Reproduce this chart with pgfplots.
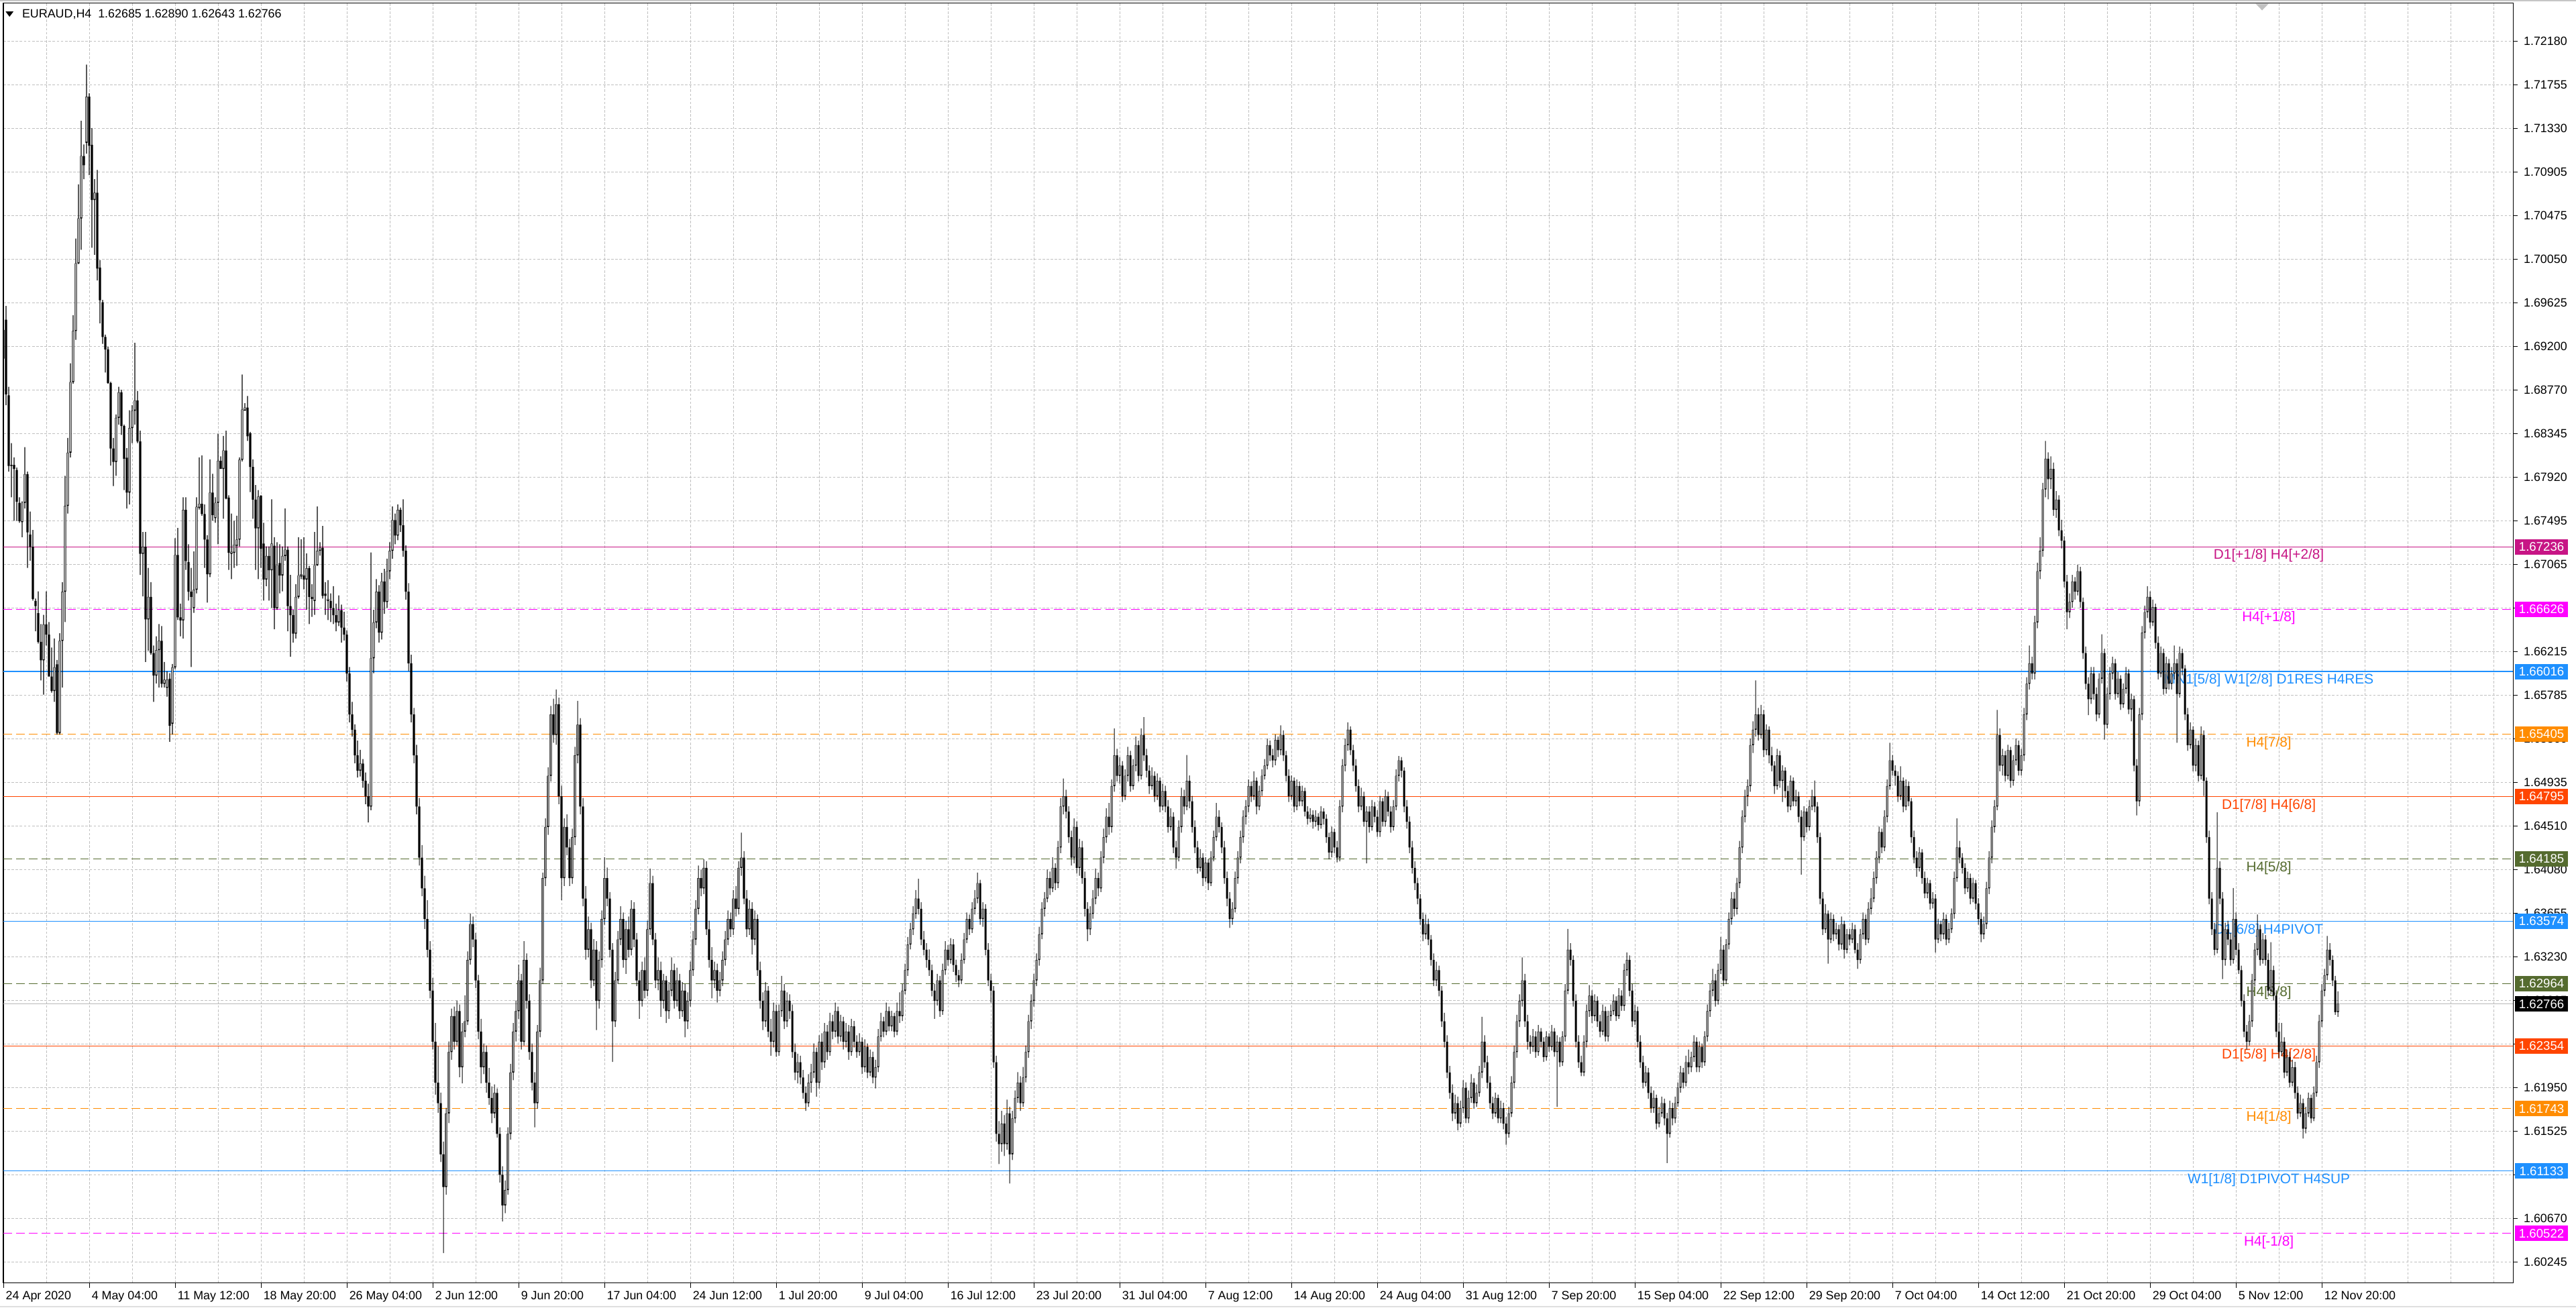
\documentclass[border=0pt]{standalone}
\usepackage{pgfplots}
\usepackage{pgfplotstable}
\pgfplotsset{compat=1.18}
\usepackage{fontspec}
\setmainfont{Liberation Sans}
\definecolor{mvr}{HTML}{C71585}
\definecolor{mag}{HTML}{FF00FF}
\definecolor{dblue}{HTML}{1E90FF}
\definecolor{dorange}{HTML}{FF8C00}
\definecolor{ored}{HTML}{FF4500}
\definecolor{olv}{HTML}{556B2F}
\definecolor{gridc}{HTML}{C0C0C0}
\newcommand\tfont{\fontsize{7.3}{8.5}\selectfont}
\newcommand\bfont{\fontsize{7.6}{8.5}\selectfont}
\newcommand\lfont{\fontsize{8.5}{10}\selectfont}
\pgfplotsset{
  geom/.style={at={(2.04pt,15pt)}, anchor=south west, scale only axis,
    width=1527.6pt, height=779pt, xmin=5, xmax=3746, ymin=3.8, ymax=1255},
  candax/.style={geom, hide axis, ybar stacked, grid=none},
}
% EURAUD H4 candles: o h l c in pips above 1.6000 (1 unit = 0.0001)
\pgfplotstableread{
o h l c
936 940 903 908
946 959 862 873
872 880 797 803
804 825 772 803
804 811 749 800
799 801 749 768
767 772 747 749
748 768 733 767
767 821 761 795
795 797 703 738
736 758 710 724
724 740 671 673
671 673 641 666
659 680 629 631
631 648 593 613
613 657 579 648
648 680 627 638
638 650 597 597
597 625 581 583
583 634 572 606
609 613 540 542
542 639 540 632
632 689 586 680
680 793 650 764
764 830 756 816
816 903 811 885
885 950 883 935
935 1025 926 1001
1001 1078 1000 1045
1045 1140 1014 1106
1106 1117 1083 1097
1119 1195 1108 1164
1164 1167 1087 1116
1117 1133 1016 1063
1063 1083 1009 1070
1070 1092 984 996
997 1004 942 965
963 965 922 929
929 931 894 917
917 919 883 884
884 885 803 820
820 830 783 807
807 853 793 850
850 880 843 875
875 877 833 842
842 843 779 810
811 820 761 777
777 857 765 840
840 862 825 857
857 923 843 867
867 876 825 827
827 837 696 717
717 738 675 724
724 738 611 653
653 703 622 675
675 689 618 620
620 627 572 598
598 636 590 623
623 648 586 632
632 646 586 590
590 611 586 594
586 602 577 594
595 600 533 549
551 609 540 606
606 732 604 716
716 742 652 655
655 668 636 652
652 772 634 760
760 772 701 710
709 726 671 680
680 703 606 675
664 719 659 682
682 772 678 763
762 811 760 766
766 813 754 756
756 765 703 731
731 735 669 697
697 809 694 777
777 795 749 755
752 772 747 767
767 834 726 808
808 812 800 800
800 832 751 818
818 837 770 771
772 774 701 718
717 756 692 719
718 749 703 726
725 754 705 731
731 811 724 809
809 892 807 858
857 864 857 860
860 871 827 832
835 836 777 802
802 809 751 770
770 784 701 742
742 779 692 773
774 774 703 722
727 747 671 692
692 724 685 715
715 724 671 701
701 770 664 727
725 733 643 664
664 728 662 706
708 726 678 696
696 724 680 715
715 761 710 721
721 724 641 666
666 696 616 657
657 662 630 639
639 687 634 675
675 733 673 696
695 731 692 697
696 733 682 692
692 717 662 703
703 705 648 675
675 687 655 673
671 738 657 706
706 763 705 720
720 728 715 723
723 744 673 676
678 689 657 676
671 691 652 673
671 678 650 664
664 685 648 657
657 668 641 650
650 676 646 662
662 667 630 645
645 660 632 638
638 642 592 600
600 606 552 560
560 572 538 545
545 550 512 520
520 534 498 505
505 525 499 512
512 516 488 495
495 503 472 480
480 492 454 470
470 718 466 615
615 662 600 650
650 692 644 680
680 686 630 640
640 698 633 690
690 702 658 670
670 712 664 700
700 728 692 720
720 763 712 750
750 756 726 735
735 765 730 760
760 762 738 745
745 770 714 720
720 725 672 680
680 688 602 610
610 618 552 560
560 566 512 520
520 530 462 470
470 478 412 420
420 432 382 390
390 402 350 360
360 378 322 330
330 338 282 290
290 302 232 240
240 258 188 200
200 235 170 180
180 190 122 130
130 142 33 98
98 175 90 170
170 240 160 230
230 272 222 265
265 274 232 240
240 280 236 270
270 276 205 215
215 258 199 250
250 285 244 260
260 328 256 320
320 365 315 355
355 362 332 340
340 346 292 300
300 305 242 250
250 262 199 215
215 238 208 230
230 236 190 200
200 214 178 185
185 196 160 170
170 198 165 190
190 194 146 150
150 156 102 110
110 118 64 80
80 104 72 95
95 156 90 150
150 218 144 210
210 258 202 250
250 280 240 270
270 315 262 300
300 306 232 240
240 338 236 320
320 326 272 280
280 286 222 230
230 238 192 200
200 210 156 180
180 256 174 250
250 312 244 300
300 405 296 400
400 458 392 450
450 508 442 500
500 568 494 560
560 575 532 540
540 584 530 570
570 576 472 480
480 490 378 400
400 458 392 450
450 462 422 430
430 438 392 400
400 448 394 440
440 528 432 520
520 573 512 550
550 556 462 470
470 478 372 380
380 392 320 330
330 362 322 350
350 356 292 300
300 340 294 330
330 338 251 280
280 328 272 320
320 368 312 360
360 420 354 400
400 410 372 380
380 386 322 330
330 336 220 260
260 308 254 300
300 348 296 340
340 372 334 360
360 366 312 320
320 358 306 350
350 362 322 330
330 378 324 370
370 376 332 340
340 346 294 300
300 308 262 280
280 318 274 310
310 322 282 290
290 358 284 350
350 409 344 395
395 402 334 340
340 346 292 300
300 322 290 310
310 318 264 280
280 306 272 300
300 304 258 270
270 298 262 290
290 322 284 310
310 316 272 280
280 312 274 300
300 306 262 270
270 298 264 290
290 296 244 260
260 288 252 280
280 318 274 310
310 348 304 340
340 378 334 370
370 412 364 400
400 408 382 390
390 418 384 410
410 416 344 350
350 358 312 320
320 332 282 300
300 318 292 310
310 316 278 290
290 308 284 300
300 328 294 320
320 348 314 340
340 368 334 360
360 366 342 350
350 388 344 380
380 392 362 370
370 416 364 410
410 444 402 420
420 426 374 380
380 388 342 350
350 378 344 370
370 376 325 340
340 368 334 360
360 364 304 310
310 318 272 280
280 288 251 260
260 298 254 290
290 294 244 250
250 262 226 240
240 278 234 270
270 276 225 230
230 276 226 270
270 304 264 290
290 296 252 260
260 288 254 280
280 286 262 270
270 276 224 230
230 238 202 210
210 228 199 220
220 226 198 205
205 212 184 190
190 196 172 180
180 208 176 200
200 218 190 210
210 238 204 230
230 234 186 200
200 246 194 240
240 248 212 220
220 258 214 250
250 256 222 230
230 268 226 260
260 266 242 250
250 278 244 270
270 274 238 245
245 266 240 260
260 264 232 240
240 258 234 250
250 256 222 230
230 262 226 255
255 260 234 240
240 246 224 230
230 248 226 240
240 244 208 215
215 242 210 235
235 238 204 210
210 232 206 225
225 230 199 205
205 222 194 215
215 252 210 245
245 268 240 260
260 264 244 250
250 278 246 270
270 274 250 255
255 270 250 265
265 268 244 250
250 278 246 270
270 288 258 265
265 296 260 290
290 316 286 310
310 342 304 335
335 356 330 350
350 372 344 365
365 388 360 380
380 399 364 370
370 376 334 340
340 348 324 330
330 336 312 320
320 330 304 310
310 315 284 290
290 296 262 280
280 306 275 300
300 304 264 270
270 316 266 310
310 338 305 330
330 334 314 320
320 341 316 335
335 340 308 315
315 320 298 305
305 310 293 300
300 326 296 320
320 346 316 340
340 366 336 360
360 364 344 350
350 376 346 370
370 388 364 380
380 405 375 395
395 398 354 360
360 376 352 370
370 374 324 330
330 336 294 300
300 306 278 290
290 294 214 220
220 226 142 150
150 162 120 140
140 172 132 160
160 168 128 140
140 183 134 170
170 176 101 130
130 172 124 165
165 192 160 185
185 210 180 200
200 206 172 180
180 215 176 205
205 236 200 230
230 266 224 260
260 286 252 280
280 306 274 300
300 326 294 320
320 352 314 345
345 376 340 370
370 386 362 380
380 408 376 400
400 406 383 390
390 420 386 410
410 414 388 395
395 436 390 430
430 478 424 470
470 497 462 480
480 486 458 465
465 470 434 440
440 446 412 420
420 458 414 450
450 455 404 410
410 438 402 430
430 436 394 400
400 406 362 370
370 376 338 350
350 372 344 365
365 388 360 380
380 409 374 400
400 405 382 390
390 426 386 420
420 448 414 440
440 468 434 460
460 473 442 450
450 496 444 490
490 546 484 520
520 526 494 500
500 518 492 510
510 514 474 480
480 506 476 500
500 528 494 520
520 524 484 490
490 516 486 510
510 538 504 530
530 534 494 500
500 546 496 540
540 557 514 520
520 526 498 505
505 510 482 490
490 508 486 500
500 504 474 480
480 502 476 495
495 498 464 470
470 492 466 485
485 490 464 470
470 476 444 450
450 468 446 460
460 464 424 430
430 436 409 420
420 456 416 450
450 488 444 480
480 486 462 470
470 520 466 495
495 500 468 475
475 480 444 450
450 456 424 430
430 436 404 410
410 428 406 420
420 424 392 400
400 420 396 415
415 418 388 395
395 426 392 420
420 446 416 440
440 473 436 460
460 466 444 450
450 454 424 430
430 436 394 400
400 406 372 380
380 386 351 360
360 376 354 370
370 406 366 400
400 426 394 420
420 446 414 440
440 466 434 460
460 476 452 470
470 496 464 490
490 494 474 480
480 504 476 495
495 498 462 470
470 490 466 485
485 506 480 500
500 516 496 510
510 536 506 530
530 534 514 520
520 526 508 515
515 540 510 535
535 538 518 525
525 549 520 540
540 544 514 520
520 524 494 500
500 506 474 480
480 500 476 495
495 498 464 470
470 496 466 490
490 494 470 475
475 490 470 485
485 488 460 465
465 470 452 458
458 468 454 462
462 466 448 455
455 466 450 460
460 463 446 452
452 470 448 465
465 468 452 458
458 462 434 440
440 444 418 425
425 450 420 445
445 448 424 430
430 436 415 420
420 476 416 470
470 516 464 510
510 536 504 530
530 552 524 545
545 548 520 525
525 530 504 510
510 516 484 490
490 496 464 470
470 488 466 480
480 484 450 455
455 470 414 465
465 470 444 450
450 476 446 470
470 474 454 460
460 466 440 445
445 480 440 475
475 478 450 455
455 486 450 480
480 484 460 465
465 470 444 450
450 476 446 470
470 506 466 500
500 519 494 515
515 518 498 505
505 508 464 470
470 476 448 455
455 460 424 430
430 436 404 410
410 416 388 395
395 400 374 380
380 384 354 360
360 366 338 345
345 364 340 355
355 360 334 340
340 344 314 320
320 326 294 300
300 318 294 310
310 314 284 290
290 294 254 260
260 268 234 240
240 246 204 210
210 216 184 190
190 198 162 170
170 188 164 180
180 186 153 160
160 182 156 175
175 202 170 195
195 200 160 165
165 192 160 185
185 208 180 200
200 204 174 180
180 198 176 190
190 216 186 210
210 264 204 240
240 246 214 220
220 226 194 200
200 206 174 180
180 186 164 170
170 190 166 185
185 188 160 165
165 182 160 175
175 180 154 160
160 166 139 150
150 176 146 170
170 206 166 200
200 236 194 230
230 266 224 260
260 286 254 280
280 322 274 300
300 306 254 260
260 266 232 240
240 246 228 235
235 252 230 245
245 250 224 230
230 256 226 250
250 253 234 240
240 244 220 225
225 250 221 245
245 248 230 235
235 256 231 250
250 253 225 230
230 246 176 240
240 244 215 220
220 250 216 245
245 296 240 290
290 350 286 330
330 336 314 320
320 324 274 280
280 286 234 240
240 246 214 220
220 226 206 210
210 246 206 240
240 276 234 270
270 295 264 285
285 290 258 265
265 286 260 280
280 284 254 260
260 266 244 250
250 276 246 270
270 274 240 245
245 270 240 265
265 276 260 270
270 286 266 280
280 284 260 265
265 292 262 285
285 290 270 275
275 316 270 310
310 327 304 320
320 324 284 290
290 296 254 260
260 276 256 270
270 274 234 240
240 246 214 220
220 226 194 200
200 216 196 210
210 214 184 190
190 196 170 175
175 192 170 185
185 188 154 160
160 176 156 170
170 186 166 180
180 184 158 165
165 170 121 150
150 182 146 175
175 180 158 165
165 186 160 180
180 200 176 195
195 216 190 210
210 214 194 200
200 226 196 220
220 232 208 215
215 230 210 225
225 246 220 240
240 244 210 215
215 240 210 235
235 238 214 220
220 250 216 245
245 276 240 270
270 296 264 290
290 311 284 300
300 306 274 280
280 316 276 310
310 342 306 330
330 334 294 300
300 340 296 335
335 366 330 360
360 386 354 380
380 386 362 370
370 400 364 395
395 436 390 430
430 466 424 460
460 486 454 480
480 496 470 490
490 536 484 530
530 553 522 545
545 593 538 560
560 566 534 540
540 569 536 560
560 564 518 525
525 550 520 545
545 548 512 520
520 528 504 510
510 514 482 490
490 526 486 520
520 524 488 495
495 510 474 505
505 508 478 485
485 490 464 470
470 500 466 495
495 498 470 475
475 486 470 480
480 484 454 460
460 466 403 440
440 470 436 465
465 468 444 450
450 476 446 470
470 486 466 480
480 495 464 470
470 474 434 440
440 444 374 380
380 386 344 350
350 374 346 365
365 368 316 340
340 366 336 360
360 364 338 345
345 356 340 350
350 354 329 335
335 362 330 355
355 358 321 330
330 350 326 345
345 350 334 340
340 356 336 350
350 354 326 330
330 336 311 320
320 350 316 345
345 366 340 360
360 364 334 340
340 376 336 370
370 390 364 380
380 406 376 400
400 426 394 420
420 450 414 445
445 448 424 430
430 466 426 460
460 496 454 490
490 532 486 515
515 520 500 505
505 510 490 500
500 504 474 480
480 509 476 495
495 498 464 470
470 496 466 490
490 494 470 475
475 478 434 440
440 446 414 420
420 426 401 410
410 430 406 425
425 428 394 400
400 406 380 385
385 400 380 395
395 398 369 375
375 386 370 380
380 384 327 340
340 360 336 355
355 358 338 345
345 366 340 360
360 364 334 340
340 356 336 350
350 370 346 365
365 406 360 400
400 458 396 430
430 436 414 420
420 424 404 410
410 414 384 390
390 406 386 400
400 404 374 380
380 400 376 395
395 398 369 375
375 380 354 360
360 366 337 345
345 362 340 355
355 396 350 390
390 426 384 420
420 456 414 450
450 476 444 470
470 564 466 540
540 546 504 510
510 526 500 520
520 524 494 500
500 530 496 525
525 528 488 495
495 520 490 515
515 536 510 530
530 534 500 505
505 526 500 520
520 566 514 560
560 596 554 590
590 627 584 610
610 616 594 600
600 656 594 650
650 708 644 700
700 733 692 720
720 786 714 780
780 827 772 810
810 816 770 790
790 812 780 800
800 806 754 760
760 778 752 770
770 774 734 740
740 750 722 730
730 734 684 690
690 696 643 660
660 678 654 670
670 696 664 690
690 694 672 680
680 706 676 700
700 704 664 670
670 674 614 620
620 626 584 590
590 596 559 575
575 606 570 600
600 606 574 580
580 586 553 560
560 600 556 595
595 638 590 620
620 624 535 550
550 586 546 580
580 606 574 600
600 616 594 610
610 614 574 580
580 601 576 595
595 598 564 570
570 590 566 585
585 606 580 600
600 604 560 565
565 580 553 575
575 578 504 510
510 516 461 475
475 566 470 560
560 646 554 640
640 666 634 660
660 685 654 675
675 680 644 650
650 672 646 665
665 668 624 630
630 636 594 600
600 626 596 620
620 624 579 585
585 616 580 610
610 614 584 590
590 606 584 600
600 627 594 610
610 614 532 580
580 626 576 620
620 624 598 605
605 608 554 560
560 566 524 530
530 552 526 545
545 548 504 510
510 536 504 530
530 534 494 500
500 548 496 540
540 544 480 495
495 498 434 440
440 446 374 380
380 386 344 350
350 356 324 330
330 464 326 410
410 416 374 380
380 386 301 320
320 356 314 350
350 358 334 340
340 346 314 320
320 390 316 360
360 366 324 330
330 336 306 310
310 314 274 280
280 286 244 250
250 256 232 240
240 266 236 260
260 306 254 300
300 336 294 330
330 364 324 350
350 354 314 320
320 346 316 340
340 344 314 320
320 326 284 290
290 337 286 310
310 314 280 285
285 290 244 250
250 258 224 230
230 258 226 240
240 244 204 210
210 232 206 225
225 230 195 200
200 222 196 215
215 220 184 190
190 196 164 170
170 188 166 180
180 184 145 155
155 176 150 170
170 190 166 185
185 188 160 165
165 196 162 190
190 226 186 220
220 266 214 260
260 296 254 290
290 311 284 305
305 343 300 330
330 336 314 320
320 324 294 300
300 304 266 269
269 289 264 277
}\candles

\begin{document}
\begin{tikzpicture}
\fill[white] (0,0) rectangle (1568pt,796pt);
\path[use as bounding box] (0,0) rectangle (1568pt,796pt);
% window frame lines (top and bottom)
\draw[gray!45, line width=0.9pt] (0,795.5pt) -- (1568pt,795.5pt);
\draw[gray!25, line width=0.9pt] (0,0.5pt) -- (1568pt,0.5pt);
% ---------- main axis: frame, grid, ticks, levels ----------
\begin{axis}[
  geom,
  clip mode=individual,
  axis line style={black, line width=0.5pt},
  xtick={5,133,...,3461},
  xticklabels={24 Apr 2020,4 May 04:00,11 May 12:00,18 May 20:00,26 May 04:00,2 Jun 12:00,9 Jun 20:00,17 Jun 04:00,24 Jun 12:00,1 Jul 20:00,9 Jul 04:00,16 Jul 12:00,23 Jul 20:00,31 Jul 04:00,7 Aug 12:00,14 Aug 20:00,24 Aug 04:00,31 Aug 12:00,7 Sep 20:00,15 Sep 04:00,22 Sep 12:00,29 Sep 20:00,7 Oct 04:00,14 Oct 12:00,21 Oct 20:00,29 Oct 04:00,5 Nov 12:00,12 Nov 20:00},
  minor xtick={69,197,...,3653,3589,3717},
  ytick={24.5,67.125,109.75,152.375,195,237.625,280.25,322.875,365.5,408.125,450.75,493.375,536,578.625,621.25,663.875,706.5,749.125,791.75,834.375,877,919.625,962.25,1004.875,1047.5,1090.125,1132.75,1175.375,1218},
  yticklabels={1.60245,1.60670,1.61095,1.61525,1.61950,1.62375,1.62805,1.63230,1.63655,1.64080,1.64510,1.64935,1.65360,1.65785,1.66215,1.66640,1.67065,1.67495,1.67920,1.68345,1.68770,1.69200,1.69625,1.70050,1.70475,1.70905,1.71330,1.71755,1.72180},
  xtick pos=left, ytick pos=right, yticklabel pos=right,
  tick align=outside,
  major tick length=3pt, minor tick length=0pt,
  tick style={black, line width=0.4pt},
  grid=both,
  major grid style={gridc, line width=0.4pt, dash pattern=on 1.5pt off 1pt},
  minor grid style={gridc, line width=0.4pt, dash pattern=on 1.5pt off 1pt},
  xticklabel style={anchor=north west, font=\tfont, xshift=-2pt, yshift=1.5pt},
  yticklabel style={anchor=west, font=\tfont},
]
\addplot[mvr, line width=0.45pt] coordinates {(5,723.6) (3746,723.6)};
\addplot[mag, line width=0.45pt, dash pattern=on 5.2pt off 2.6pt] coordinates {(5,662.6) (3746,662.6)};
\addplot[dblue, line width=0.85pt] coordinates {(5,601.6) (3746,601.6)};
\addplot[dorange, line width=0.45pt, dash pattern=on 5.2pt off 2.6pt] coordinates {(5,540.5) (3746,540.5)};
\addplot[ored, line width=0.45pt] coordinates {(5,479.5) (3746,479.5)};
\addplot[olv, line width=0.45pt, dash pattern=on 5.2pt off 2.6pt] coordinates {(5,418.5) (3746,418.5)};
\addplot[dblue, line width=0.45pt] coordinates {(5,357.4) (3746,357.4)};
\addplot[olv, line width=0.45pt, dash pattern=on 5.2pt off 2.6pt] coordinates {(5,296.4) (3746,296.4)};
\addplot[gray!55, line width=0.45pt] coordinates {(5,276.6) (3746,276.6)};
\addplot[ored, line width=0.45pt] coordinates {(5,235.4) (3746,235.4)};
\addplot[dorange, line width=0.45pt, dash pattern=on 5.2pt off 2.6pt] coordinates {(5,174.3) (3746,174.3)};
\addplot[dblue, line width=0.45pt] coordinates {(5,113.3) (3746,113.3)};
\addplot[mag, line width=0.45pt, dash pattern=on 5.2pt off 2.6pt] coordinates {(5,52.2) (3746,52.2)};
\node[anchor=north, inner sep=0pt, yshift=-1.3pt, font=\lfont, text=mvr] at (axis cs:3382,723.6) {D1[+1/8] H4[+2/8]};
\node[anchor=north, inner sep=0pt, yshift=-1.3pt, font=\lfont, text=mag] at (axis cs:3382,662.6) {H4[+1/8]};
\node[anchor=north, inner sep=0pt, yshift=-1.3pt, font=\lfont, text=dblue] at (axis cs:3382,601.6) {MN1[5/8] W1[2/8] D1RES H4RES};
\node[anchor=north, inner sep=0pt, yshift=-1.3pt, font=\lfont, text=dorange] at (axis cs:3382,540.5) {H4[7/8]};
\node[anchor=north, inner sep=0pt, yshift=-1.3pt, font=\lfont, text=ored] at (axis cs:3382,479.5) {D1[7/8] H4[6/8]};
\node[anchor=north, inner sep=0pt, yshift=-1.3pt, font=\lfont, text=olv] at (axis cs:3382,418.5) {H4[5/8]};
\node[anchor=north, inner sep=0pt, yshift=-1.3pt, font=\lfont, text=dblue] at (axis cs:3382,357.4) {D1[6/8] H4PIVOT};
\node[anchor=north, inner sep=0pt, yshift=-1.3pt, font=\lfont, text=olv] at (axis cs:3382,296.4) {H4[3/8]};
\node[anchor=north, inner sep=0pt, yshift=-1.3pt, font=\lfont, text=ored] at (axis cs:3382,235.4) {D1[5/8] H4[2/8]};
\node[anchor=north, inner sep=0pt, yshift=-1.3pt, font=\lfont, text=dorange] at (axis cs:3382,174.3) {H4[1/8]};
\node[anchor=north, inner sep=0pt, yshift=-1.3pt, font=\lfont, text=dblue] at (axis cs:3382,113.3) {W1[1/8] D1PIVOT H4SUP};
\node[anchor=north, inner sep=0pt, yshift=-1.3pt, font=\lfont, text=mag] at (axis cs:3382,52.2) {H4[-1/8]};
\coordinate (B1) at (axis cs:3746,723.6);
\coordinate (B2) at (axis cs:3746,662.6);
\coordinate (B3) at (axis cs:3746,601.6);
\coordinate (B4) at (axis cs:3746,540.5);
\coordinate (B5) at (axis cs:3746,479.5);
\coordinate (B6) at (axis cs:3746,418.5);
\coordinate (B7) at (axis cs:3746,357.4);
\coordinate (B8) at (axis cs:3746,296.4);
\coordinate (B9) at (axis cs:3746,276.6);
\coordinate (B10) at (axis cs:3746,235.4);
\coordinate (B11) at (axis cs:3746,174.3);
\coordinate (B12) at (axis cs:3746,113.3);
\coordinate (B13) at (axis cs:3746,52.2);
\coordinate (SH) at (axis cs:3372,1255);
\end{axis}
% ---------- wicks (low .. high) ----------
\begin{axis}[candax, bar width=0.42pt]
\addplot[draw=none, fill=none] table[x expr={5+4*\coordindex}, y expr={\thisrow{l}}] {\candles};
\addplot[draw=none, fill=black] table[x expr={5+4*\coordindex}, y expr={\thisrow{h}-\thisrow{l}}] {\candles};
\end{axis}
% ---------- bodies (open .. close), black ----------
\begin{axis}[candax, bar width=1.25pt]
\addplot[draw=none, fill=none] table[x expr={5+4*\coordindex}, y expr={min(\thisrow{o},\thisrow{c})-0.35}] {\candles};
\addplot[draw=none, fill=black] table[x expr={5+4*\coordindex}, y expr={max(abs(\thisrow{o}-\thisrow{c}),0.7)}] {\candles};
\end{axis}
% ---------- hollow interior of rising candles ----------
\begin{axis}[candax, bar width=0.42pt]
\addplot[draw=none, fill=none] table[x expr={5+4*\coordindex}, y expr={min(\thisrow{o},\thisrow{c})+0.66}] {\candles};
\addplot[draw=none, fill=white] table[x expr={5+4*\coordindex}, y expr={(\thisrow{c}>\thisrow{o})*max(\thisrow{c}-\thisrow{o}-1.32,0)}] {\candles};
\end{axis}
% ---------- chart shift marker ----------
\fill[gridc] ([xshift=-3.9pt,yshift=-0.3pt]SH) -- ([xshift=3.9pt,yshift=-0.3pt]SH) -- ([yshift=-4.3pt]SH) -- cycle;
% ---------- price boxes on the right scale ----------
\tikzset{pbox/.style={anchor=west, inner sep=0pt, minimum width=32.5pt, minimum height=9.4pt, text=white, font=\bfont, xshift=0.9pt}}
\node[pbox, fill=mvr] at (B1) {1.67236};
\node[pbox, fill=mag] at (B2) {1.66626};
\node[pbox, fill=dblue] at (B3) {1.66016};
\node[pbox, fill=dorange] at (B4) {1.65405};
\node[pbox, fill=ored] at (B5) {1.64795};
\node[pbox, fill=olv] at (B6) {1.64185};
\node[pbox, fill=dblue] at (B7) {1.63574};
\node[pbox, fill=olv] at (B8) {1.62964};
\node[pbox, fill=black] at (B9) {1.62766};
\node[pbox, fill=ored] at (B10) {1.62354};
\node[pbox, fill=dorange] at (B11) {1.61743};
\node[pbox, fill=dblue] at (B12) {1.61133};
\node[pbox, fill=mag] at (B13) {1.60522};
% ---------- title ----------
\fill[black] (3.4pt,789pt) -- (8.2pt,789pt) -- (5.8pt,785.8pt) -- cycle;
\node[anchor=west, inner sep=0pt, font=\tfont] at (13.3pt,787.2pt) {EURAUD,H4\ \ 1.62685 1.62890 1.62643 1.62766};
\end{tikzpicture}
\end{document}
